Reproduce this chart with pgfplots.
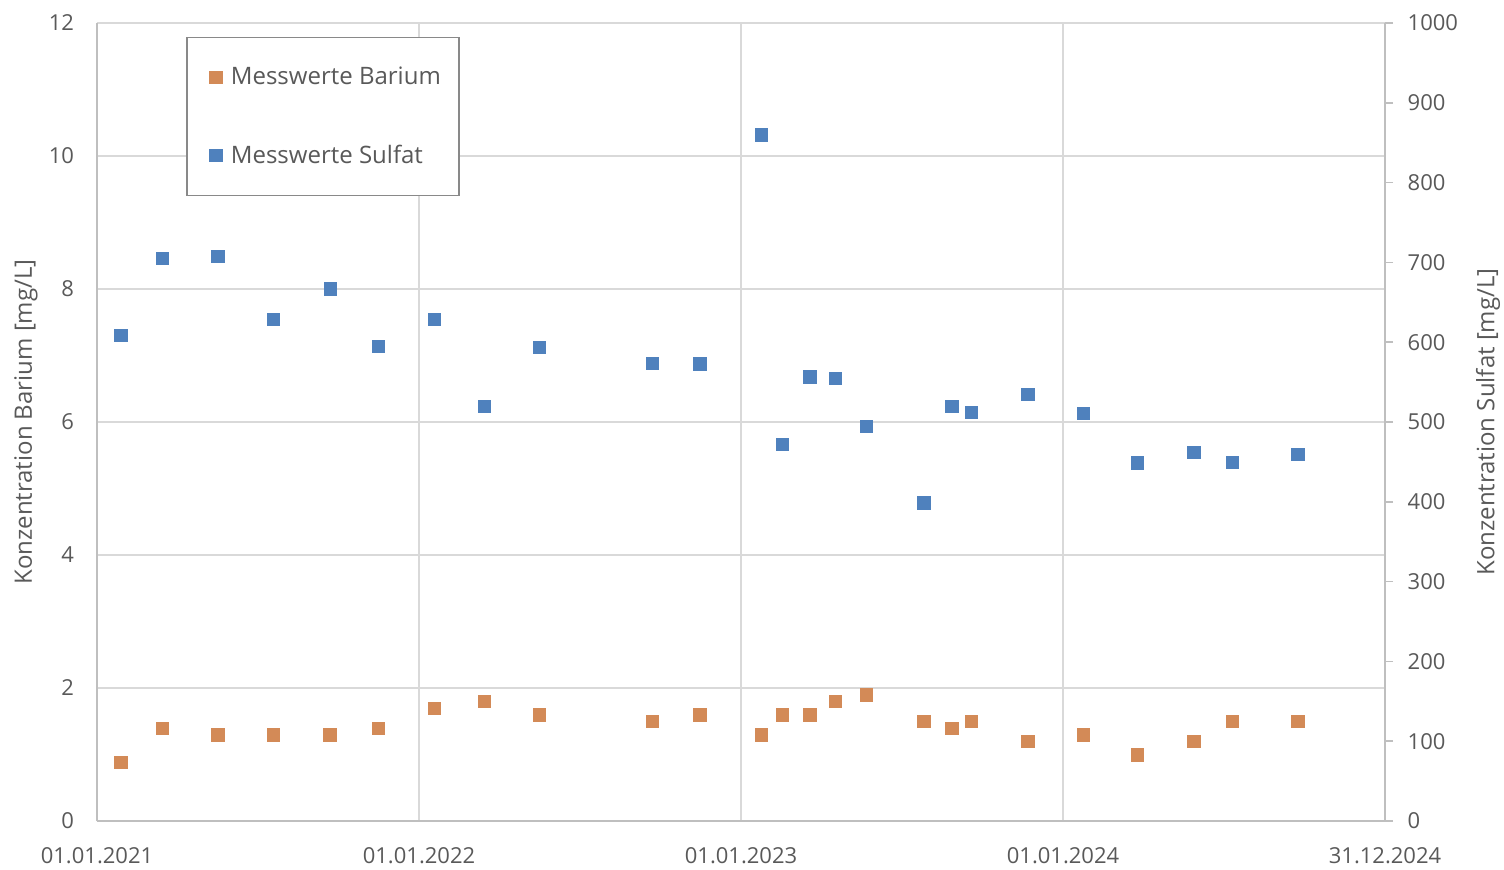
\documentclass[border=0pt]{standalone}
\usepackage{pgfplots}
\pgfplotsset{compat=1.18}
\usepackage{pgfplotstable}
\usepackage{fontspec}
\setmainfont{Open Sans}
\definecolor{orangeM}{HTML}{D38A57}
\definecolor{blueM}{HTML}{4F81BD}
\definecolor{txt}{HTML}{595959}
\definecolor{gridc}{HTML}{D9D9D9}
\definecolor{axc}{HTML}{BFBFBF}
\definecolor{legc}{HTML}{898989}

% day = days since 01.01.2021
\pgfplotstableread{
day ba so
27 0.88 609
74 1.4 705
137 1.3 708
200 1.3 629
264 1.3 667
319 1.4 595
382 1.7 629
439 1.8 520
501 1.6 594
629 1.5 574
683 1.6 573
753 1.3 860
777 1.6 472
808 1.6 557
837 1.8 555
872 1.9 495
937 1.5 399
969 1.4 520
991 1.5 512
1055 1.2 535
1118 1.3 511
1179 1.0 449
1243 1.2 462
1287 1.5 450
1361 1.5 460
}\data

\begin{document}
\begin{tikzpicture}
\begin{axis}[
  at={(0,0)}, anchor=south west,
  scale only axis, width=644pt, height=399pt,
  xmin=0, xmax=1460, ymin=0, ymax=12,
  xtick={0,365,730,1095,1460},
  xticklabels={01.01.2021,01.01.2022,01.01.2023,01.01.2024,31.12.2024},
  ytick={0,2,...,12},
  axis x line*=bottom, axis y line*=left,
  axis line style={draw=axc, line width=0.75pt, -},
  major tick length=0pt,
  grid=major, major grid style={draw=gridc, line width=0.6pt},
  /pgf/number format/assume math mode=true,
  tick label style={font=\fontsize{11}{13}\selectfont, text=txt},
  yticklabel style={xshift=-8pt},
  xticklabel style={yshift=-9.6pt},
  ylabel={Konzentration Barium [mg/L]},
  ylabel style={at={(axis description cs:-0.05512,0.5)}, anchor=center, font=\fontsize{12}{14}\selectfont, text=txt},
  legend style={at={(axis description cs:0.0691,0.9825)}, anchor=north west,
    draw=legc, line width=0.75pt, fill=white,
    font=\fontsize{12}{14}\selectfont, text=txt,
    inner xsep=7pt, inner ysep=12.7pt, row sep=24.5pt,
    /tikz/every odd column/.append style={column sep=2.5pt}},
  legend cell align=left,
  legend image code/.code={\path (-7.1pt,0pt); \draw[#1] plot coordinates {(0pt,0pt)};},
]
\addplot[only marks, mark=square*, mark size=3.1pt, color=orangeM,
  mark options={fill=orangeM, draw=orangeM, line width=0.2pt}] table[x=day, y=ba] {\data};
\addlegendentry{Messwerte Barium}
\addlegendimage{only marks, mark=square*, mark size=3.1pt, color=blueM,
  mark options={fill=blueM, draw=blueM, line width=0.2pt}}
\addlegendentry{Messwerte Sulfat}
\end{axis}
\begin{axis}[
  at={(0,0)}, anchor=south west,
  scale only axis, width=644pt, height=399pt,
  xmin=0, xmax=1460, ymin=0, ymax=1000,
  axis x line=none, axis y line*=right,
  axis line style={draw=axc, line width=0.75pt, -},
  ytick={0,100,...,1000},
  tick align=outside, major tick length=4pt,
  tick style={draw=axc, line width=0.75pt},
  scaled y ticks=false,
  /pgf/number format/1000 sep={},
  /pgf/number format/assume math mode=true,
  yticklabel style={font=\fontsize{11}{13}\selectfont, text=txt, xshift=3.8pt},
  ylabel={Konzentration Sulfat [mg/L]},
  ylabel style={at={(axis description cs:1.08,0.5)}, anchor=center, font=\fontsize{12}{14}\selectfont, text=txt},
]
\addplot[only marks, mark=square*, mark size=3.1pt, color=blueM,
  mark options={fill=blueM, draw=blueM, line width=0.2pt}] table[x=day, y=so] {\data};
\end{axis}
\pgfresetboundingbox
\path[use as bounding box] (-48.5pt,-24pt) rectangle (703.5pt,410.5pt);
\end{tikzpicture}
\end{document}
